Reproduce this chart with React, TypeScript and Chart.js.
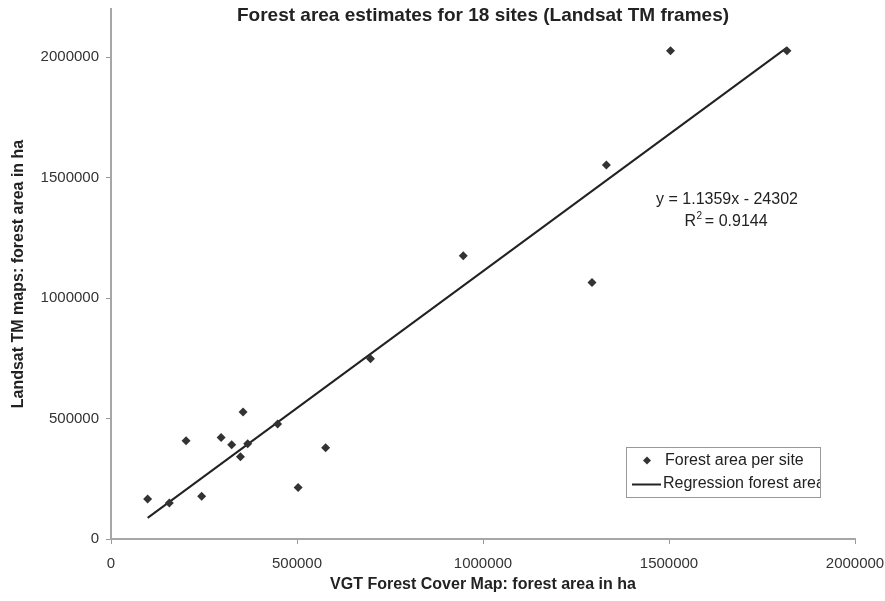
import React, { useEffect, useRef } from 'react';
import { Chart, registerables } from 'chart.js';

Chart.register(...registerables);

// VGT Forest Cover Map forest area (ha) per site
const vgtForestArea = [98500, 156800, 201800, 243700, 296000, 324500, 347900, 355000, 367500, 448000, 503000, 577000, 697600, 947000, 1293000, 1331700, 1504000, 1817000];
// Landsat TM maps forest area (ha) per site
const landsatForestArea = [166000, 149000, 408000, 177000, 421600, 391000, 341500, 527000, 395000, 477000, 214000, 379000, 748000, 1175500, 1065000, 1552000, 2027000, 2027000];
const regressionSlope = 1.1359;
const regressionIntercept = -24302;
const rSquared = 0.9144;
const xTickValues = [0, 500000, 1000000, 1500000, 2000000];
const yTickValues = [0, 500000, 1000000, 1500000, 2000000];

const titleText = 'Forest area estimates for 18 sites (Landsat TM frames)';
const xAxisTitle = 'VGT Forest Cover Map: forest area in ha';
const yAxisTitle = 'Landsat TM maps: forest area in ha';
const legendLabels = ['Forest area per site', 'Regression forest area'];

const FONT = '"Liberation Sans", Arial, sans-serif';

export default function App() {
  const canvasRef = useRef<HTMLCanvasElement | null>(null);

  useEffect(() => {
    const canvas = canvasRef.current;
    if (!canvas) return;

    const points = vgtForestArea.map((x, i) => ({ x, y: landsatForestArea[i] }));
    const minX = Math.min(...vgtForestArea);
    const maxX = Math.max(...vgtForestArea);
    const regLine = [minX, maxX].map((x) => ({ x, y: regressionSlope * x + regressionIntercept }));

    const decorPlugin = {
      id: 'decor',
      afterDraw(chart: any) {
        const ctx = chart.ctx as CanvasRenderingContext2D;
        const ca = chart.chartArea;
        ctx.save();
        ctx.fillStyle = '#222';
        // Title
        ctx.font = `bold 19px ${FONT}`;
        ctx.textAlign = 'center';
        ctx.textBaseline = 'middle';
        ctx.fillText(titleText, (ca.left + ca.right) / 2, 16);
        // X axis title
        ctx.font = `bold 16px ${FONT}`;
        ctx.fillText(xAxisTitle, (ca.left + ca.right) / 2, 585);
        // Y axis title
        ctx.save();
        ctx.translate(19, (ca.top + ca.bottom) / 2);
        ctx.rotate(-Math.PI / 2);
        ctx.fillText(yAxisTitle, 0, 0);
        ctx.restore();
        // Equation
        ctx.font = `16px ${FONT}`;
        const sign = regressionIntercept < 0 ? '-' : '+';
        ctx.fillText(`y = ${regressionSlope}x ${sign} ${Math.abs(regressionIntercept)}`, 727, 200);
        const r2Label = `R  = ${rSquared}`;
        const r2w = ctx.measureText(r2Label).width;
        const rw = ctx.measureText('R').width;
        ctx.fillText(r2Label, 726, 222);
        ctx.font = `10px ${FONT}`;
        ctx.textAlign = 'left';
        ctx.fillText('2', 726 - r2w / 2 + rw + 0.5, 216);
        // Legend
        const lx = 626, ly = 447, lw = 194, lh = 50;
        ctx.fillStyle = '#fff';
        ctx.fillRect(lx, ly, lw, lh);
        ctx.strokeStyle = '#999';
        ctx.lineWidth = 1;
        ctx.strokeRect(lx + 0.5, ly + 0.5, lw, lh);
        ctx.beginPath();
        ctx.rect(lx, ly, lw, lh);
        ctx.clip();
        // diamond marker
        ctx.fillStyle = '#333';
        ctx.beginPath();
        ctx.moveTo(647, 456.5);
        ctx.lineTo(651, 460.5);
        ctx.lineTo(647, 464.5);
        ctx.lineTo(643, 460.5);
        ctx.closePath();
        ctx.fill();
        // line sample
        ctx.strokeStyle = '#222';
        ctx.lineWidth = 2;
        ctx.beginPath();
        ctx.moveTo(632, 484.5);
        ctx.lineTo(661, 484.5);
        ctx.stroke();
        ctx.fillStyle = '#222';
        ctx.font = `16px ${FONT}`;
        ctx.textAlign = 'left';
        ctx.textBaseline = 'middle';
        ctx.fillText(legendLabels[0], 665, 461);
        ctx.fillText(legendLabels[1], 663, 484);
        ctx.restore();
      },
    };

    const zeroPad = (scale: any) => {
      scale.paddingLeft = 0;
      scale.paddingRight = 0;
      scale.paddingTop = 0;
      scale.paddingBottom = 0;
    };

    const chart = new Chart(canvas, {
      type: 'scatter',
      data: {
        datasets: [
          {
            label: legendLabels[0],
            data: points,
            pointStyle: 'rectRot',
            pointRadius: 4.5,
            pointBackgroundColor: '#333',
            pointBorderWidth: 0,
            showLine: false,
          },
          {
            label: legendLabels[1],
            data: regLine,
            showLine: true,
            borderColor: '#222',
            borderWidth: 2,
            pointRadius: 0,
          },
        ],
      },
      options: {
        responsive: false,
        animation: false,
        layout: { padding: { top: 9, right: 30, left: 0, bottom: 0 } },
        plugins: {
          legend: { display: false },
          title: { display: false },
          tooltip: { enabled: false },
        },
        scales: {
          x: {
            type: 'linear',
            min: 0,
            max: 2000000,
            afterFit: (scale: any) => { scale.height = 62; zeroPad(scale); },
            afterBuildTicks: (scale: any) => { scale.ticks = xTickValues.map((v) => ({ value: v })); },
            grid: { drawOnChartArea: false, tickLength: 5, tickColor: '#999', tickWidth: 1 },
            border: { display: true, color: '#a6a6a6', width: 2 },
            ticks: {
              color: '#333',
              font: { family: FONT, size: 15 },
              padding: 11,
              maxRotation: 0,
              callback: (v: any) => String(v),
            },
          },
          y: {
            type: 'linear',
            min: 0,
            max: 2200000,
            afterFit: (scale: any) => { scale.width = 111; zeroPad(scale); },
            afterBuildTicks: (scale: any) => { scale.ticks = yTickValues.map((v) => ({ value: v })); },
            grid: { drawOnChartArea: false, tickLength: 5, tickColor: '#999', tickWidth: 1 },
            border: { display: true, color: '#a6a6a6', width: 2 },
            ticks: {
              color: '#333',
              font: { family: FONT, size: 15 },
              padding: 7,
              callback: (v: any) => String(v),
            },
          },
        },
      },
      plugins: [decorPlugin],
    });

    return () => chart.destroy();
  }, []);

  return (
    <div style={{ position: 'fixed', left: 0, top: 0, width: 885, height: 601, background: '#fff' }}>
      <canvas ref={canvasRef} width={885} height={601} style={{ display: 'block', width: 885, height: 601 }} />
    </div>
  );
}
